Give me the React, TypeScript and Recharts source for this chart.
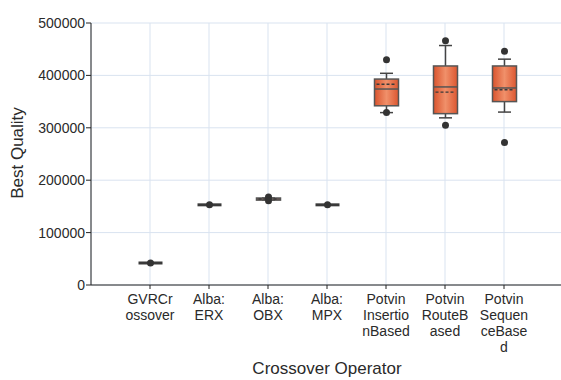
import { ComposedChart, Bar, XAxis, YAxis, CartesianGrid } from 'recharts'

// category labels, already wrapped the way the reference breaks them
const categories = ['GVRCrossover', 'Alba:ERX', 'Alba:OBX', 'Alba:MPX', 'PotvinInsertionBased', 'PotvinRouteBased', 'PotvinSequenceBased']
const labelLines = [
  ['GVRCr', 'ossover'],
  ['Alba:', 'ERX'],
  ['Alba:', 'OBX'],
  ['Alba:', 'MPX'],
  ['Potvin', 'Insertio', 'nBased'],
  ['Potvin', 'RouteB', 'ased'],
  ['Potvin', 'Sequen', 'ceBase', 'd'],
]

const whiskerLow  = [42000, 153000, 162000, 153000, 329000, 319000, 330000]
const q1          = [42000, 153000, 162000, 153000, 342000, 327000, 350000]
const median      = [42000, 153000, 164000, 153000, 374000, 378000, 376000]
const mean        = [42000, 153000, 164000, 153000, 383000, 368000, 372500]
const q3          = [42000, 153000, 166000, 153000, 393000, 418000, 418000]
const whiskerHigh = [42000, 153000, 166000, 153000, 404000, 457000, 431000]
const outliers    = [[42000], [153000], [168000, 161000], [153000], [430000, 329000], [466000, 305000], [446000, 272000]]

const yTicks = [0, 100000, 200000, 300000, 400000, 500000]

const FONT = '"Liberation Sans", Arial, sans-serif'

const data = categories.map((name, i) => {
  const all = [whiskerLow[i], whiskerHigh[i], ...outliers[i]]
  const lo = Math.min(...all)
  const hi = Math.max(...all)
  return {
    name,
    lo,
    hi,
    range: [lo, hi],
    wLow: whiskerLow[i],
    q1: q1[i],
    median: median[i],
    mean: mean[i],
    q3: q3[i],
    wHigh: whiskerHigh[i],
    out: outliers[i],
  }
})

// box drawn inside the range bar; values mapped between the bar's own ends
function BoxShape(props: any) {
  const { x, y, width, height, payload } = props
  const cx = x + width / 2
  const top = Math.min(y, y + height)
  const h = Math.abs(height)
  const { lo, hi } = payload
  const py = (v: number) => (hi === lo ? top : top + (h * (hi - v)) / (hi - lo))
  const bw = 12
  const cap = 6.5
  const boxTop = py(payload.q3)
  const boxBot = py(payload.q1)
  const flat = boxBot - boxTop < 2

  return (
    <g>
      {/* whiskers */}
      <line x1={cx} x2={cx} y1={py(payload.wHigh)} y2={boxTop} stroke="#444" strokeWidth={1.5} />
      <line x1={cx} x2={cx} y1={boxBot} y2={py(payload.wLow)} stroke="#444" strokeWidth={1.5} />
      <line x1={cx - cap} x2={cx + cap} y1={py(payload.wHigh)} y2={py(payload.wHigh)} stroke="#444" strokeWidth={1.5} />
      <line x1={cx - cap} x2={cx + cap} y1={py(payload.wLow)} y2={py(payload.wLow)} stroke="#444" strokeWidth={1.5} />
      {flat ? (
        <rect x={cx - bw} y={boxTop - 1.5} width={bw * 2} height={boxBot - boxTop + 3} fill="#3a3a3a" />
      ) : (
        <>
          <rect x={cx - bw} y={boxTop} width={bw * 2} height={boxBot - boxTop} fill="url(#boxFill)" stroke="#555" strokeWidth={1.5} />
          <line x1={cx - bw} x2={cx + bw} y1={py(payload.median)} y2={py(payload.median)} stroke="#555" strokeWidth={1.5} />
          <line x1={cx - bw + 2} x2={cx + bw - 2} y1={py(payload.mean)} y2={py(payload.mean)} stroke="#3a3a3a" strokeWidth={1.4} strokeDasharray="3 2" />
        </>
      )}
      {payload.out.map((v: number, k: number) => (
        <circle key={k} cx={cx} cy={py(v)} r={3.5} fill="#333" />
      ))}
    </g>
  )
}

function CategoryTick(props: any) {
  const { x, y, payload } = props
  const lines = labelLines[payload.index] ?? [payload.value]
  return (
    <text x={x} y={y} textAnchor="middle" fontSize={14} fontFamily={FONT} fill="#2a2a2a">
      {lines.map((l, k) => (
        <tspan key={k} x={x} y={y + 13 + k * 16}>{l}</tspan>
      ))}
    </text>
  )
}

export default function App() {
  return (
    <div style={{ position: 'absolute', left: 0, top: 0, width: 561, height: 380, overflow: 'hidden', background: '#fff', fontFamily: FONT }}>
      <ComposedChart
        width={565}
        height={380}
        data={data}
        margin={{ top: 23, right: 2, left: 0, bottom: 0 }}
      >
        <defs>
          <linearGradient id="boxFill" x1="0" y1="0" x2="1" y2="0">
            <stop offset="0%" stopColor="#d9532d" />
            <stop offset="50%" stopColor="#f0906a" />
            <stop offset="100%" stopColor="#dc5630" />
          </linearGradient>
        </defs>
        <CartesianGrid stroke="#d9e3f0" strokeWidth={1} />
        <XAxis
          dataKey="name"
          type="category"
          height={95}
          padding={{ left: 29.5, right: 29.5 }}
          interval={0}
          tick={<CategoryTick />}
          tickSize={4}
          axisLine={{ stroke: '#222' }}
          tickLine={{ stroke: '#222' }}
        />
        <YAxis
          type="number"
          domain={[0, 500000]}
          ticks={yTicks}
          width={91}
          tickSize={5}
          tickMargin={1}
          interval={0}
          tick={{ fontSize: 14, fontFamily: FONT, fill: '#2a2a2a' }}
          axisLine={{ stroke: '#222' }}
          tickLine={{ stroke: '#222' }}
        />
        <Bar dataKey="range" barSize={24} shape={<BoxShape />} isAnimationActive={false} />
      </ComposedChart>
      <div style={{ position: 'absolute', left: 91, width: 472, top: 359, textAlign: 'center', fontSize: 17, color: '#2a2a2a', lineHeight: '20px' }}>
        Crossover Operator
      </div>
      <div style={{ position: 'absolute', left: 18, top: 153, transform: 'translate(-50%, -50%) rotate(-90deg)', whiteSpace: 'nowrap', fontSize: 17, color: '#2a2a2a', lineHeight: '20px' }}>
        Best Quality
      </div>
    </div>
  )
}
